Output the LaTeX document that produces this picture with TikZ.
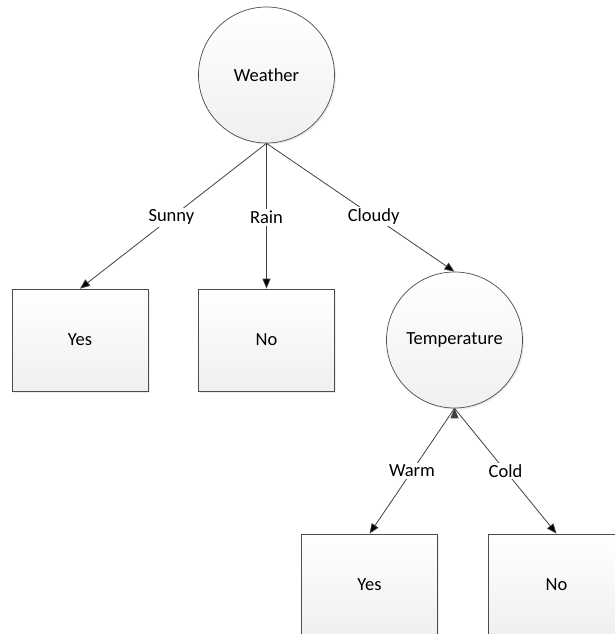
\documentclass[tikz,border=0pt]{standalone}
\usepackage{fontspec}
\setmainfont{Carlito}
\usetikzlibrary{positioning,arrows.meta,shadows}

\begin{document}
\begin{tikzpicture}[x=1pt,y=-1pt,on grid,
  font=\fontsize{18.5}{22}\selectfont,
  test node/.style={circle,draw=black!70,line width=0.7pt,
    minimum size=136pt,inner sep=0pt,top color=white,bottom color=black!6,
    drop shadow={shadow xshift=1.5pt,shadow yshift=-1.5pt,opacity=0.15}},
  leaf node/.style={rectangle,draw=black!70,line width=0.7pt,
    minimum width=136pt,minimum height=102pt,top color=white,bottom color=black!6,
    drop shadow={shadow xshift=1.5pt,shadow yshift=-1.5pt,opacity=0.15}},
  branch/.style={->,>={Triangle[length=10pt,width=8pt]},draw=black!75,line width=0.8pt},
  branch label/.style={fill=white,inner sep=2pt,text=black}]

  \useasboundingbox (0,0) rectangle (615,634);
  \clip (0,0) rectangle (615,634);

  \node[test node] (weather) at (266.5,75) {Weather};
  \node[leaf node] (yes) [below left=265pt and 186.5pt of weather] {Yes};
  \node[leaf node] (no) [below=265pt of weather] {No};
  \node[test node] (temp) [below right=265pt and 188pt of weather] {Temperature};
  \node[leaf node] (warmyes) [below left=245pt and 85pt of temp] {Yes};
  \node[leaf node] (coldno) [below right=245pt and 102pt of temp] {No};

  \path[branch]
  (weather.south) edge node[branch label,pos=0.51] {Sunny} (yes.north)
  (weather.south) edge node[branch label,pos=0.51] {Rain} (no.north)
  (weather.south) edge node[branch label,pos=0.57] {Cloudy} (temp.north)
  (temp.south) edge node[branch label,pos=0.5] {Warm} (warmyes.north)
  (temp.south) edge node[branch label,pos=0.5] {Cold} (coldno.north);

\end{tikzpicture}
\end{document}
